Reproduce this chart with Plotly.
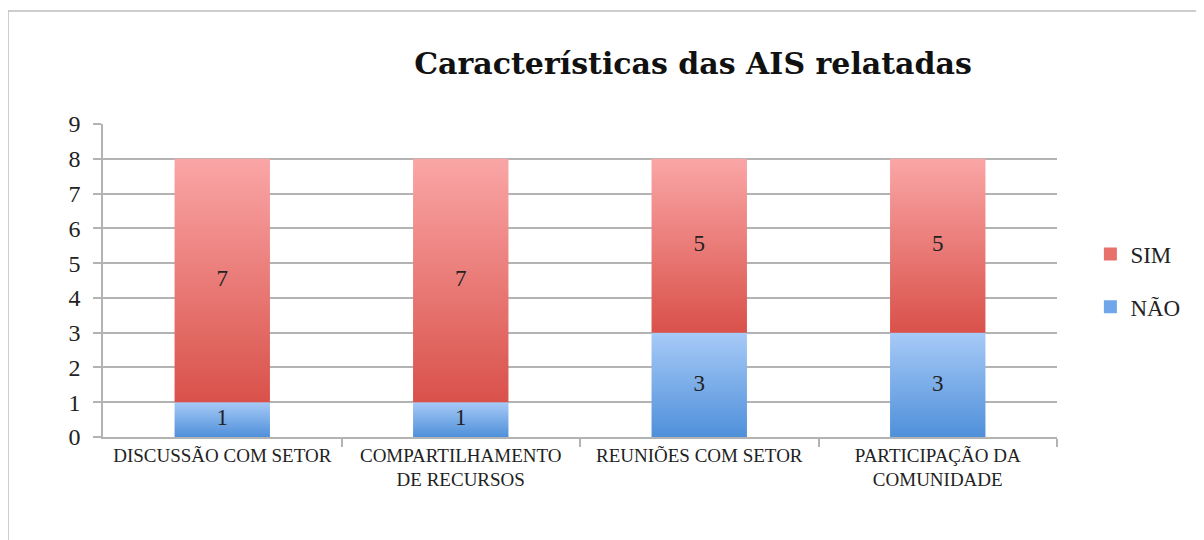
import plotly.graph_objects as go

categories = ["DISCUSSÃO COM SETOR", "COMPARTILHAMENTO<br>DE RECURSOS",
              "REUNIÕES COM SETOR", "PARTICIPAÇÃO DA<br>COMUNIDADE"]
nao = [1, 1, 3, 3]
sim = [7, 7, 5, 5]
series = [
    ("NÃO", nao, "#4F90DA", "#A7CAF7", "#6FA7EA"),
    ("SIM", sim, "#D9514A", "#FAA6A6", "#E8716B"),
]
title = "Características das AIS relatadas"

W = 0.4
SERIF = "Liberation Serif, DejaVu Serif, serif"
GRID = "#B3B3B3"

fig = go.Figure()
bases = [0] * len(categories)
for rank, (name, vals, dark, light, mid) in enumerate(series):
    for i, v in enumerate(vals):
        b = bases[i]
        fig.add_trace(go.Scatter(
            x=[i - W / 2, i + W / 2, i + W / 2, i - W / 2, i - W / 2],
            y=[b, b, b + v, b + v, b],
            mode="lines", fill="toself", line=dict(width=0),
            fillgradient=dict(type="vertical",
                              colorscale=[[0, dark], [1, light]]),
            showlegend=False, hoverinfo="skip",
        ))
        fig.add_trace(go.Scatter(
            x=[i], y=[b + v / 2], mode="text", text=[str(v)],
            textposition="middle center",
            textfont=dict(family=SERIF, size=23, color="#222222"),
            showlegend=False, hoverinfo="skip",
        ))
        bases[i] = b + v
    fig.add_trace(go.Scatter(
        x=[None], y=[None], mode="markers", name=name,
        marker=dict(symbol="square", size=13, color=mid),
        legendgroup=name, legendrank=10 - rank,
    ))

fig.update_layout(
    width=1204, height=540,
    margin=dict(l=95, r=155, t=116, b=111),
    paper_bgcolor="white", plot_bgcolor="white",
    title=dict(text="<b>" + title + "</b>", x=(693 - 103) / 954, xref="paper",
               xanchor="center", y=(540 - 55) / 540, yanchor="middle",
               font=dict(family="DejaVu Serif, serif", size=30, color="#111111")),
    legend=dict(x=1.035, y=0.5, xanchor="left", yanchor="middle",
                font=dict(family=SERIF, size=23, color="#222222"),
                tracegroupgap=20, traceorder="grouped", itemwidth=30),
    showlegend=True,
    shapes=[dict(type="rect", xref="paper", yref="paper",
                 x0=(8 - 103) / 954, x1=(1215 - 103) / 954,
                 y0=-0.6, y1=(437 - 11) / 313,
                 line=dict(color="#BDBDBD", width=1.5), layer="below")],
)
fig.update_xaxes(
    range=[-0.5, 3.5], tickvals=list(range(len(categories))), ticktext=categories,
    ticks="", showgrid=False, zeroline=False,
    showline=True, linecolor=GRID, linewidth=1.5,
    tickfont=dict(family=SERIF, size=19, color="#222222"),
    minor=dict(tickvals=[0.5, 1.5, 2.5, 3.5], ticks="outside", ticklen=8,
               tickcolor=GRID, tickwidth=1.5, showgrid=False),
    fixedrange=True,
)
fig.update_yaxes(
    range=[0, 9], dtick=1, tick0=0,
    showgrid=True, gridcolor=GRID, gridwidth=1.5,
    zeroline=False, showline=True, linecolor=GRID, linewidth=1.5,
    ticks="outside", ticklen=8, tickcolor=GRID, tickwidth=1.5,
    ticklabelstandoff=8,
    tickfont=dict(family=SERIF, size=24, color="#222222"),
    fixedrange=True,
)
fig.write_html("out.html")
